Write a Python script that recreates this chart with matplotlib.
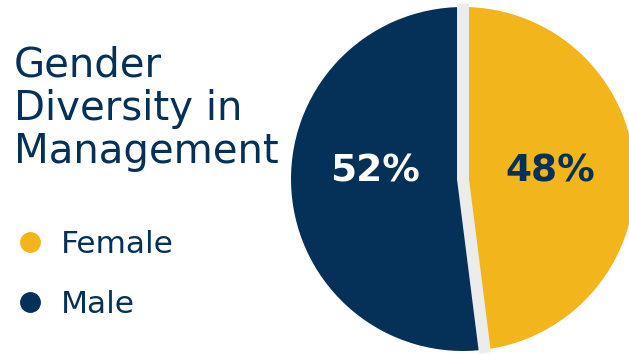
import matplotlib.pyplot as plt
import numpy as np

labels = ["Female", "Male"]
shares = [48, 52]
colors = ["#f2b51c", "#053158"]
text_colors = ["#053158", "#ffffff"]
title = "Gender\nDiversity in\nManagement"

NAVY = "#053158"
GAP = "#ececec"

W, H, DPI = 629, 354, 100
fig = plt.figure(figsize=(W / DPI, H / DPI), dpi=DPI)
fig.patch.set_facecolor("white")

# pie placed in pixel terms: centre (463, 179), radius 172
cx, cy, r = 463, 179, 172
ax = fig.add_axes([(cx - r) / W, (H - cy - r) / H, 2 * r / W, 2 * r / H])
ax.pie(shares, colors=colors, startangle=90, counterclock=False, radius=1,
       wedgeprops={"linewidth": 0})
ax.set_xlim(-1, 1)
ax.set_ylim(-1, 1)
ax.axis("off")

# light separator along the slice boundaries
bounds = 90 - 360 * np.cumsum([0] + shares[:1]) / 100
ends = np.deg2rad(bounds)
xs = [1.02 * np.cos(ends[0]), 0, 1.02 * np.cos(ends[1])]
ys = [1.02 * np.sin(ends[0]), 0, 1.02 * np.sin(ends[1])]
ax.plot(xs, ys, color=GAP, lw=8.6, solid_capstyle="butt",
        solid_joinstyle="miter", clip_on=False)

# percentage labels inside the slices
for i, (v, tc) in enumerate(zip(shares, text_colors)):
    side = 1 if i == 0 else -1
    ax.text(side * 0.51, 0.045, f"{v}%", color=tc, fontsize=27,
            fontweight="bold", ha="center", va="center")

# title block (anchored on the baseline of its last line)
fig.text(14 / W, 1 - 163 / H, title, color=NAVY, fontsize=29,
         ha="left", va="baseline", linespacing=1.1)

# legend dots and names
for lab, col, yb in zip(labels, colors, [253, 313]):
    fig.text(61 / W, 1 - yb / H, lab, color=NAVY, fontsize=22.5,
             ha="left", va="baseline")
    fig.add_artist(plt.Line2D([30 / W], [1 - (yb - 11) / H], marker="o",
                              markersize=14, color=col, linestyle="none"))

fig.savefig("out.png", dpi=DPI)
